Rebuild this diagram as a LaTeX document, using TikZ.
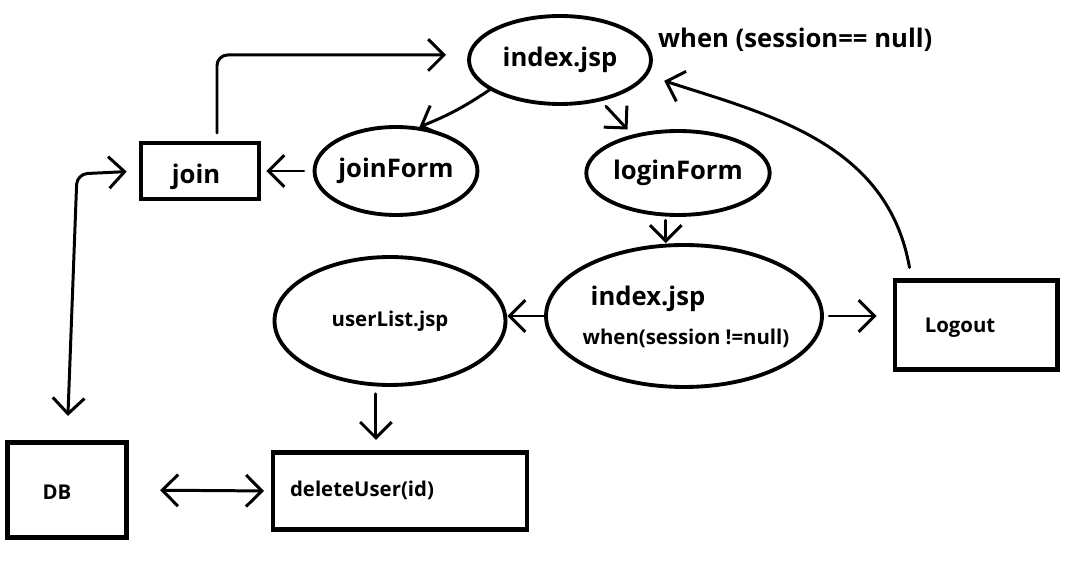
\documentclass[tikz,border=0pt]{standalone}
\usepackage{fontspec}
\setmainfont{Open Sans}
\usetikzlibrary{shapes.geometric, arrows.meta, calc}

\begin{document}
\begin{tikzpicture}[x=0.02cm, y=-0.02cm, >={Straight Barb[length=9pt,width=18pt]},
    oval/.style={draw, ellipse, line width=2.2pt, inner sep=0pt},
    box/.style={draw, rectangle, line width=2.3pt, inner sep=0pt},
    big/.style={font=\bfseries\fontsize{14.6}{17}\selectfont},
    small/.style={font=\bfseries\fontsize{11.6}{14}\selectfont},
    conn/.style={->, line width=1.7pt, line cap=round, line join=round}]
    \useasboundingbox (0,0) rectangle (1069,563);

    % pages
    \node[oval, big, minimum width=3.64cm, minimum height=1.76cm] (topIdx) at (560,60) {index.jsp};
    \node[big, anchor=west] (nullCond) at (652,40) {when (session== null)};
    \node[oval, big, minimum width=3.24cm, minimum height=1.76cm] (joinForm) at (396,171) {joinForm};
    \node[oval, big, minimum width=3.64cm, minimum height=1.68cm] (loginForm) at (678,173) {loginForm};
    \node[oval, minimum width=5.52cm, minimum height=2.84cm] (midIdx) at (684,316) {};
    \node[big] (midTitle) at (648,299) {index.jsp};
    \node[small] (midCond) at (686,338) {when(session !=null)};
    \node[oval, small, minimum width=4.62cm, minimum height=2.56cm] (userList) at (390,321) {userList.jsp};

    % actions
    \node[box, minimum width=2.36cm, minimum height=1.12cm] (join) at (200,171) {};
    \node[big] (joinTxt) at (196,177) {join};
    \node[box, minimum width=3.26cm, minimum height=1.78cm] (logout) at (976,325) {};
    \node[small] (logoutTxt) at (960,328) {Logout};
    \node[box, minimum width=2.38cm, minimum height=1.9cm] (db) at (67,490) {};
    \node[small] (dbTxt) at (57,492) {DB};
    \node[box, minimum width=5.08cm, minimum height=1.54cm] (delUser) at (400,491) {};
    \node[small] (delTxt) at (362,490) {deleteUser(id)};

    % flow
    \draw[conn, rounded corners=6pt, shorten >=12pt] ($(join.north)+(17,-8)$) |- ($(topIdx.west)+(0,-5)$);
    \draw[conn] (topIdx.203) to[bend left=6] (joinForm.62);
    \draw[conn, shorten <=4pt, shorten >=4pt] (topIdx.-45) -- (loginForm.140);
    \draw[conn, shorten <=5pt, shorten >=3pt] (joinForm.west) -- (join.east);
    \draw[conn, shorten <=2pt] ([xshift=-7pt]loginForm.south) -- ([xshift=-7pt]loginForm.south |- midIdx.north);
    \draw[conn] (midIdx.west) -- (midIdx.west -| userList.east);
    \draw[conn, shorten <=3pt, shorten >=9pt] (midIdx.east) -- (midIdx.east -| logout.west);
    \draw[conn, shorten >=10pt] ($(logout.north west)+(17,-11)$) to[out=100, in=-18] (topIdx.-10);
    \draw[conn, shorten <=4pt, shorten >=6pt] ([xshift=-8pt]userList.south) -- ([xshift=-8pt]userList.south |- delUser.north);
    \draw[conn, <->, shorten <=18pt, shorten >=4pt] (db.east) -- (delUser.west);
    \draw[conn, <->, rounded corners=6pt, shorten <=7pt, shorten >=14pt] (join.west) -- ++(-62,3) -- (db.north);
\end{tikzpicture}
\end{document}
